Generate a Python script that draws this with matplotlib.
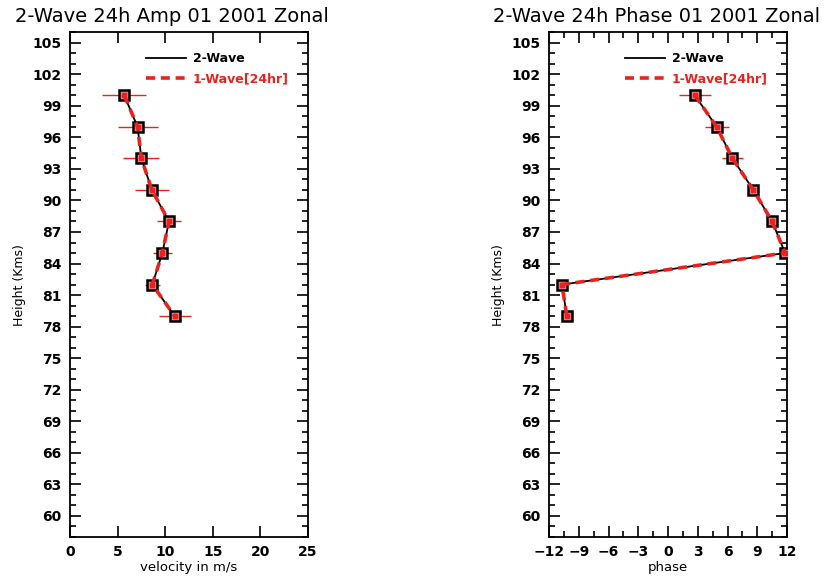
import matplotlib
matplotlib.use("Agg")
import matplotlib.pyplot as plt
from matplotlib.ticker import MultipleLocator

# heights of the retrieved levels (km)
heights = [100, 97, 94, 91, 88, 85, 82, 79]

# amplitude (m/s)
amp_2wave = [5.7, 7.1, 7.5, 8.6, 10.4, 9.7, 8.65, 11.0]
amp_1wave = [5.7, 7.1, 7.5, 8.6, 10.4, 9.7, 8.65, 11.0]
amp_err = [2.3, 2.1, 1.9, 1.75, 1.3, 1.0, 0.8, 1.7]

# phase (hours)
phase_2wave = [2.7, 4.9, 6.5, 8.6, 10.5, 11.8, -10.7, -10.2]
phase_1wave = [2.7, 4.9, 6.5, 8.6, 10.5, 11.8, -10.7, -10.2]
phase_err = [1.6, 1.2, 1.1, 0.3, 0.3, 0.2, 0.2, 0.2]

y_ticks = list(range(60, 106, 3))

RED = "#e8231f"
plt.rcParams["font.family"] = ["DejaVu Sans"]
plt.rcParams["font.weight"] = "bold"

fig = plt.figure(figsize=(8.34, 5.77), dpi=100)
ax1 = fig.add_axes([0.0839, 0.0693, 0.2854, 0.875])
ax2 = fig.add_axes([0.6583, 0.0693, 0.2854, 0.875])


def draw_profile(ax, x2, x1, xerr):
    ax.errorbar(x1, heights, xerr=xerr, fmt="none", ecolor=RED, elinewidth=1.0,
                capsize=0, zorder=2)
    ax.plot(x2, heights, color="black", lw=1.3, marker="s", ms=6.5,
            mfc="#f08080", mec="black", mew=1.8, label="2-Wave", zorder=3)
    ax.plot(x1, heights, color=RED, lw=2.6, ls=(0, (2.5, 1.6)), marker="s",
            ms=3.5, mfc=RED, mec=RED, label="1-Wave[24hr]", zorder=4)


def style_axis(ax, title, xlabel, title_x):
    ax.set_ylim(58, 106)
    ax.set_yticks(y_ticks)
    ax.yaxis.set_minor_locator(MultipleLocator(1))
    ax.set_ylabel("Height (Kms)", fontsize=9, labelpad=5)
    ax.set_xlabel(xlabel, fontsize=9.5, labelpad=1)
    ax.set_title(title, fontsize=14, fontweight="normal", pad=7, x=title_x)
    ax.tick_params(which="both", direction="in", top=True, right=True,
                   labelsize=10, width=1.2, pad=6)
    ax.tick_params(which="major", length=8)
    ax.tick_params(which="minor", length=4)
    for s in ax.spines.values():
        s.set_linewidth(1.3)
    leg = ax.legend(loc="upper left", bbox_to_anchor=(0.3, 0.97), frameon=False,
                    fontsize=9, handlelength=3.2, handletextpad=0.5,
                    labelspacing=0.6, borderaxespad=0)
    for h in leg.legend_handles:
        h.set_marker("")
    leg.get_texts()[1].set_color(RED)


draw_profile(ax1, amp_2wave, amp_1wave, amp_err)
ax1.set_xlim(0, 25)
ax1.set_xticks([0, 5, 10, 15, 20, 25])
style_axis(ax1, "2-Wave 24h Amp 01 2001 Zonal", "velocity in m/s", 0.43)

draw_profile(ax2, phase_2wave, phase_1wave, phase_err)
ax2.set_xlim(-12, 12)
ax2.set_xticks(list(range(-12, 13, 3)))
ax2.xaxis.set_minor_locator(MultipleLocator(1.5))
style_axis(ax2, "2-Wave 24h Phase 01 2001 Zonal", "phase", 0.45)

fig.savefig("out.png", dpi=100)
